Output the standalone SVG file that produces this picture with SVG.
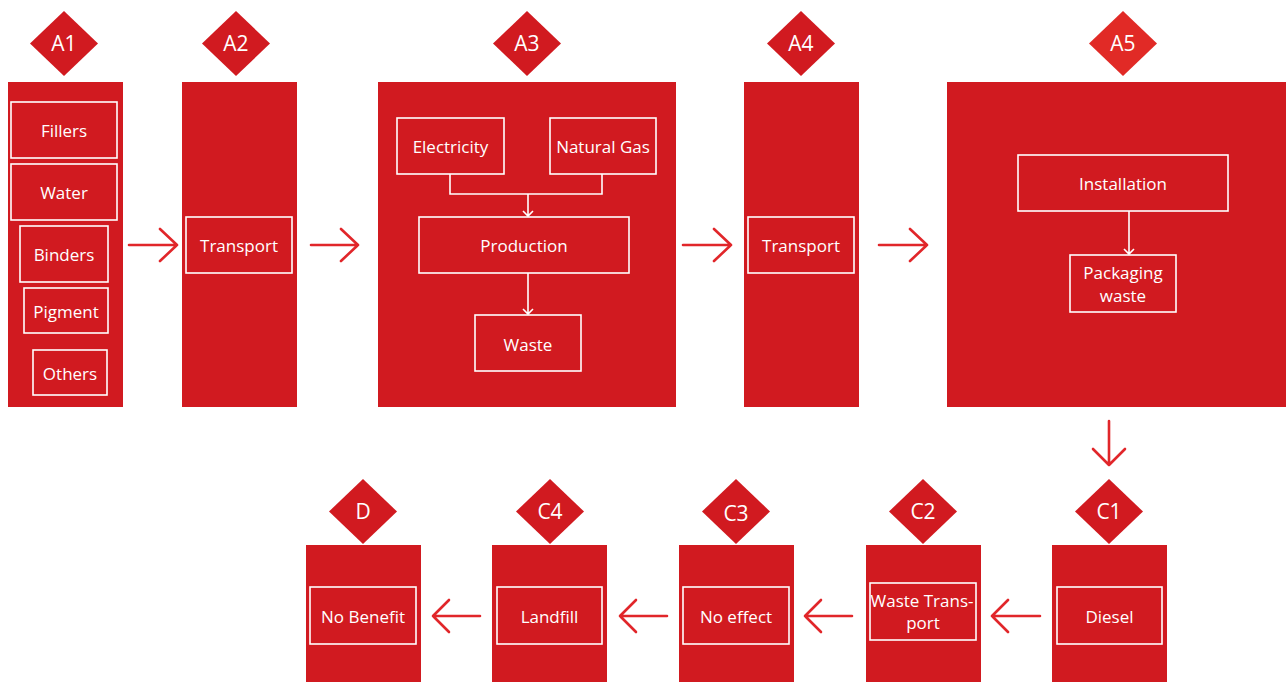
<svg xmlns="http://www.w3.org/2000/svg" width="1286" height="682" viewBox="0 0 1286 682">
<defs>
<style>
.panel{fill:#d11a20}
.dia{fill:#d11a20}
.box{fill:none;stroke:#fff;stroke-width:1.6}
.lbl{font-family:"Open Sans","Noto Sans",sans-serif;font-size:17px;fill:#fff;text-anchor:middle}
.tag{font-family:"Open Sans","Noto Sans",sans-serif;font-size:21px;fill:#fff;text-anchor:middle}
.arr{fill:none;stroke:#e1262a;stroke-width:2.6;stroke-linecap:round;stroke-linejoin:round}
.wl{fill:none;stroke:#fff;stroke-width:1.6}
</style>
</defs>
<rect width="1286" height="682" fill="#fff"/>

<g id="A1">
<rect class="panel" x="8" y="82" width="115" height="325"/>
<polygon class="dia" points="64,11 98,43.5 64,76 30,43.5"/>
<text class="tag" x="64" y="51">A1</text>
<rect class="box" x="11" y="102" width="106" height="56"/><text class="lbl" x="64" y="137">Fillers</text>
<rect class="box" x="11" y="164" width="106" height="56"/><text class="lbl" x="64" y="199">Water</text>
<rect class="box" x="20" y="226" width="88" height="56"/><text class="lbl" x="64" y="261">Binders</text>
<rect class="box" x="24" y="288" width="84" height="45"/><text class="lbl" x="66" y="318">Pigment</text>
<rect class="box" x="33" y="350" width="74" height="45"/><text class="lbl" x="70" y="380">Others</text>
</g>

<g id="A2">
<rect class="panel" x="182" y="82" width="115" height="325"/>
<polygon class="dia" points="236,11 270,43.5 236,76 202,43.5"/>
<text class="tag" x="236" y="51">A2</text>
<rect class="box" x="186" y="217" width="106" height="56"/><text class="lbl" x="239" y="252">Transport</text>
</g>

<g id="A3">
<rect class="panel" x="378" y="82" width="298" height="325"/>
<polygon class="dia" points="527,11 561,43.5 527,76 493,43.5"/>
<text class="tag" x="527" y="51">A3</text>
<rect class="box" x="397" y="118" width="107" height="56"/><text class="lbl" x="450.5" y="153">Electricity</text>
<rect class="box" x="550" y="118" width="106" height="56"/><text class="lbl" x="603" y="153">Natural Gas</text>
<rect class="box" x="419" y="217" width="210" height="56"/><text class="lbl" x="524" y="252">Production</text>
<rect class="box" x="475" y="315" width="106" height="56"/><text class="lbl" x="528" y="351">Waste</text>
<path class="wl" d="M450,174 V194 H602 V174 M528,194 V216 M523,211 L528,216 L533,211 M528,273 V314 M523,309 L528,314 L533,309"/>
</g>

<g id="A4">
<rect class="panel" x="744" y="82" width="115" height="325"/>
<polygon class="dia" points="801,11 835,43.5 801,76 767,43.5"/>
<text class="tag" x="801" y="51">A4</text>
<rect class="box" x="748" y="217" width="106" height="56"/><text class="lbl" x="801" y="252">Transport</text>
</g>

<g id="A5">
<rect class="panel" x="947" y="82" width="340" height="325"/>
<polygon points="1123,11 1157,43.5 1123,76 1089,43.5" fill="#e12a26"/>
<text class="tag" x="1123" y="51">A5</text>
<rect class="box" x="1018" y="155" width="210" height="56"/><text class="lbl" x="1123" y="190">Installation</text>
<rect class="box" x="1070" y="255" width="106" height="57"/>
<text class="lbl" x="1123" y="279">Packaging</text><text class="lbl" x="1123" y="302">waste</text>
<path class="wl" d="M1129,211 V254 M1124,249 L1129,254 L1134,249"/>
</g>

<g id="D">
<rect class="panel" x="306" y="545" width="115" height="137"/>
<polygon class="dia" points="363,479 397,511.5 363,544 329,511.5"/>
<text class="tag" x="363" y="519">D</text>
<rect class="box" x="310" y="587" width="106" height="57"/><text class="lbl" x="363" y="623">No Benefit</text>
</g>

<g id="C4">
<rect class="panel" x="492" y="545" width="115" height="137"/>
<polygon class="dia" points="550,479 584,511.5 550,544 516,511.5"/>
<text class="tag" x="550" y="519">C4</text>
<rect class="box" x="497" y="587" width="105" height="57"/><text class="lbl" x="549.5" y="623">Landfill</text>
</g>

<g id="C3">
<rect class="panel" x="679" y="545" width="115" height="137"/>
<polygon class="dia" points="736,479 770,511.5 736,544 702,511.5"/>
<text class="tag" x="736" y="521">C3</text>
<rect class="box" x="683" y="587" width="106" height="57"/><text class="lbl" x="736" y="623">No effect</text>
</g>

<g id="C2">
<rect class="panel" x="866" y="545" width="115" height="137"/>
<polygon class="dia" points="923,479 957,511.5 923,544 889,511.5"/>
<text class="tag" x="923" y="519">C2</text>
<rect class="box" x="870" y="583" width="106" height="57"/>
<text class="lbl" x="922" y="607">Waste Trans-</text><text class="lbl" x="923" y="629">port</text>
</g>

<g id="C1">
<rect class="panel" x="1052" y="545" width="115" height="137"/>
<polygon class="dia" points="1109,479 1143,511.5 1109,544 1075,511.5"/>
<text class="tag" x="1109" y="519">C1</text>
<rect class="box" x="1057" y="587" width="105" height="57"/><text class="lbl" x="1109.5" y="623">Diesel</text>
</g>

<g id="connectors">
<path class="arr" d="M129,245 H177 M160,229 L177,245 L160,261"/>
<path class="arr" d="M311,245 H358 M341,229 L358,245 L341,261"/>
<path class="arr" d="M683,245 H731 M714,229 L731,245 L714,261"/>
<path class="arr" d="M879,245 H927 M910,229 L927,245 L910,261"/>
<path class="arr" d="M1109,421 V465 M1093,449 L1109,465 L1125,449"/>
<path class="arr" d="M1040,616 H992 M1008,600 L992,616 L1008,632"/>
<path class="arr" d="M852,616 H805 M821,600 L805,616 L821,632"/>
<path class="arr" d="M667,616 H620 M636,600 L620,616 L636,632"/>
<path class="arr" d="M480,616 H433 M449,600 L433,616 L449,632"/>
</g>
</svg>
